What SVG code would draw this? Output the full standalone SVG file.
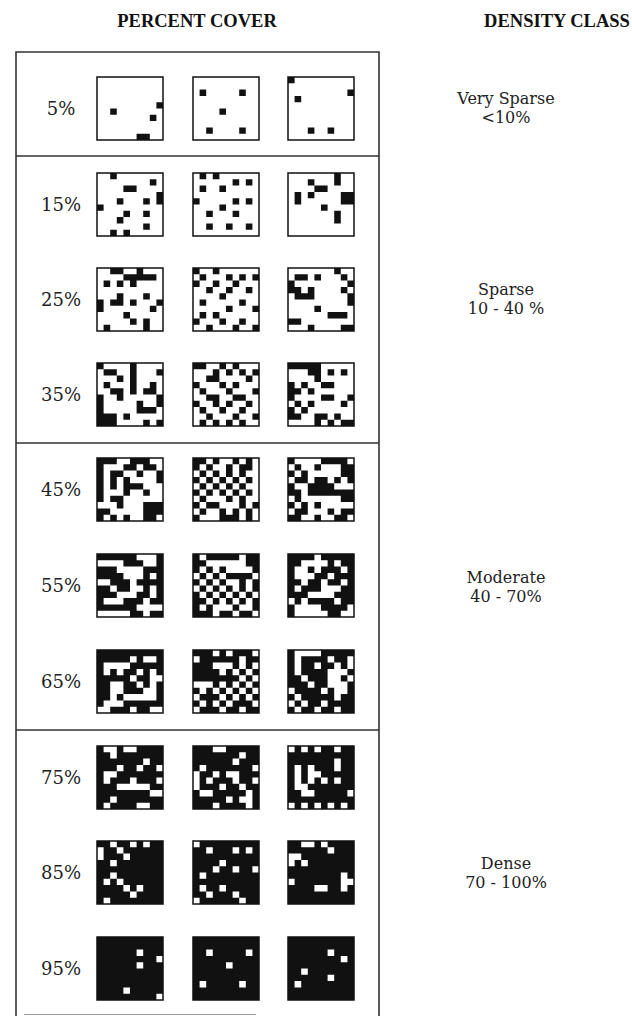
<svg xmlns="http://www.w3.org/2000/svg" width="632" height="1016" viewBox="0 0 632 1016">
<style>
.hd{font-family:"Liberation Serif",serif;font-weight:bold;font-size:18.5px;fill:#111;text-anchor:middle}
.lb{font-family:"DejaVu Serif","Liberation Serif",serif;font-size:18px;fill:#222;text-anchor:middle}
.cl{font-family:"DejaVu Serif","Liberation Serif",serif;font-size:16px;fill:#222;text-anchor:middle}
.bw{fill:#fff}
.bk{fill:#111}
.ol{fill:none;stroke:#111;stroke-width:1.5}
.frame{fill:none;stroke:#333;stroke-width:1.6}
</style>
<rect width="632" height="1016" fill="#fff"/>
<g id="headers">
<text class="hd" x="197" y="27">PERCENT COVER</text>
<text class="hd" x="557" y="27">DENSITY CLASS</text>
</g>
<g id="frame">
<path class="frame" d="M16 1016V52H379V1016"/>
<path class="frame" d="M16 156H379M16 443H379M16 730H379"/>
<path d="M24 1014.5H256" stroke="#999" stroke-width="1"/>
</g>
<g id="labels">
<text class="lb" x="61" y="115">5%</text>
<text class="lb" x="61" y="211">15%</text>
<text class="lb" x="61" y="306">25%</text>
<text class="lb" x="61" y="401">35%</text>
<text class="lb" x="61" y="496">45%</text>
<text class="lb" x="61" y="592">55%</text>
<text class="lb" x="61" y="688">65%</text>
<text class="lb" x="61" y="784">75%</text>
<text class="lb" x="61" y="879">85%</text>
<text class="lb" x="61" y="975">95%</text>
</g>
<g id="classes">
<text class="cl" x="506" y="104">Very Sparse</text>
<text class="cl" x="506" y="123">&lt;10%</text>
<text class="cl" x="506" y="295">Sparse</text>
<text class="cl" x="506" y="314">10 - 40 %</text>
<text class="cl" x="506" y="583">Moderate</text>
<text class="cl" x="506" y="602">40 - 70%</text>
<text class="cl" x="506" y="869">Dense</text>
<text class="cl" x="506" y="888">70 - 100%</text>
</g>

<g id="p5a" transform="translate(97,77)"><rect class="bw" width="66" height="63"/><path class="bk" transform="scale(6.6 6.3)" d="M2 5h1v1h-1zM9 4h1v1h-1zM8 6h1v1h-1zM6 9h2v1h-2z"/><rect class="ol" width="66" height="63"/></g>
<g id="p5b" transform="translate(193,77)"><rect class="bw" width="66" height="63"/><path class="bk" transform="scale(6.6 6.3)" d="M1 2h1v1h-1zM7 2h1v1h-1zM4 5h1v1h-1zM2 8h1v1h-1zM7 8h1v1h-1z"/><rect class="ol" width="66" height="63"/></g>
<g id="p5c" transform="translate(288,77)"><rect class="bw" width="66" height="63"/><path class="bk" transform="scale(6.6 6.3)" d="M0 0h1v1h-1zM1 3h1v1h-1zM9 2h1v1h-1zM3 8h1v1h-1zM6 8h1v1h-1z"/><rect class="ol" width="66" height="63"/></g>

<g id="p15a" transform="translate(97,173)"><rect class="bw" width="66" height="63"/><path class="bk" transform="scale(6.6 6.3)" d="M2 0h1v1h-1zM8 1h1v1h-1zM4 2h2v1h-2zM9 3h1v2h-1zM3 4h1v1h-1zM7 4h1v1h-1zM0 5h1v1h-1zM4 6h1v1h-1zM7 6h1v1h-1zM3 7h1v1h-1zM7 8h1v1h-1zM2 9h1v1h-1zM4 9h1v1h-1z"/><rect class="ol" width="66" height="63"/></g>
<g id="p15b" transform="translate(193,173)"><rect class="bw" width="66" height="63"/><path class="bk" transform="scale(6.6 6.3)" d="M1 0h1v1h-1zM3 0h1v1h-1zM6 1h1v1h-1zM8 1h1v1h-1zM1 2h1v1h-1zM4 2h1v1h-1zM0 4h1v1h-1zM6 4h1v1h-1zM8 4h1v1h-1zM4 5h1v1h-1zM2 6h1v1h-1zM6 6h1v1h-1zM2 8h1v1h-1zM5 8h1v1h-1zM8 8h1v1h-1z"/><rect class="ol" width="66" height="63"/></g>
<g id="p15c" transform="translate(288,173)"><rect class="bw" width="66" height="63"/><path class="bk" transform="scale(6.6 6.3)" d="M7 0h1v2h-1zM3 1h1v1h-1zM4 2h2v1h-2zM3 3h1v1h-1zM1 3h1v2h-1zM8 3h2v2h-2zM5 5h1v1h-1zM7 6h1v2h-1z"/><rect class="ol" width="66" height="63"/></g>

<g id="p25a" transform="translate(97,268)"><rect class="bw" width="66" height="63"/><path class="bk" transform="scale(6.6 6.3)" d="M2 0h2v1h-2zM6 0h1v1h-1zM4 1h5v1h-5zM1 2h1v1h-1zM3 2h1v1h-1zM5 2h1v1h-1zM3 4h1v1h-1zM7 4h1v1h-1zM0 5h1v2h-1zM2 5h2v1h-2zM5 5h1v1h-1zM9 5h1v1h-1zM8 6h1v1h-1zM4 7h1v1h-1zM5 8h1v1h-1zM7 8h1v2h-1zM1 9h1v1h-1z"/><rect class="ol" width="66" height="63"/></g>
<g id="p25b" transform="translate(193,268)"><rect class="bw" width="66" height="63"/><path class="bk" transform="scale(6.6 6.3)" d="M0 0h1v1h-1zM3 0h1v1h-1zM1 1h1v1h-1zM5 1h1v1h-1zM7 1h1v1h-1zM9 1h1v1h-1zM0 2h1v1h-1zM3 2h1v1h-1zM6 2h1v1h-1zM2 3h1v1h-1zM5 3h1v1h-1zM8 3h1v1h-1zM4 4h1v1h-1zM1 5h1v1h-1zM7 5h1v1h-1zM5 6h1v1h-1zM9 6h1v1h-1zM1 7h1v1h-1zM3 7h1v1h-1zM0 8h1v1h-1zM4 8h1v1h-1zM7 8h1v1h-1zM2 9h1v1h-1zM6 9h1v1h-1zM9 9h1v1h-1z"/><rect class="ol" width="66" height="63"/></g>
<g id="p25c" transform="translate(288,268)"><rect class="bw" width="66" height="63"/><path class="bk" transform="scale(6.6 6.3)" d="M7 0h1v1h-1zM1 1h2v1h-2zM4 1h1v1h-1zM8 1h1v1h-1zM0 2h1v2h-1zM9 2h1v1h-1zM1 3h1v1h-1zM3 3h1v1h-1zM8 3h1v1h-1zM1 4h3v1h-3zM9 4h1v2h-1zM4 6h1v1h-1zM6 7h3v1h-3zM0 8h2v1h-2zM3 9h1v1h-1zM8 9h2v1h-2z"/><rect class="ol" width="66" height="63"/></g>

<g id="p35a" transform="translate(97,363)"><rect class="bw" width="66" height="63"/><path class="bk" transform="scale(6.6 6.3)" d="M0 0h1v1h-1zM5 0h1v5h-1zM1 1h2v1h-2zM9 1h1v1h-1zM3 2h1v1h-1zM1 3h1v1h-1zM8 3h1v2h-1zM2 4h2v1h-2zM7 4h1v1h-1zM0 5h1v5h-1zM3 5h1v1h-1zM9 5h1v2h-1zM6 6h1v2h-1zM7 7h2v1h-2zM1 8h2v2h-2zM4 8h1v1h-1zM7 9h1v1h-1zM9 9h1v1h-1z"/><rect class="ol" width="66" height="63"/></g>
<g id="p35b" transform="translate(193,363)"><rect class="bw" width="66" height="63"/><path class="bk" transform="scale(6.6 6.3)" d="M0 0h2v1h-2zM4 0h1v1h-1zM6 0h1v1h-1zM3 1h1v2h-1zM5 1h1v1h-1zM7 1h1v1h-1zM9 1h1v1h-1zM2 2h1v1h-1zM8 2h1v1h-1zM0 3h1v1h-1zM4 3h1v1h-1zM6 3h1v1h-1zM1 4h1v1h-1zM5 4h1v1h-1zM9 4h1v1h-1zM2 5h2v1h-2zM6 5h2v1h-2zM0 6h1v1h-1zM3 6h1v1h-1zM5 6h1v1h-1zM8 6h1v1h-1zM1 7h1v1h-1zM4 7h1v1h-1zM7 7h1v1h-1zM2 8h1v1h-1zM6 8h1v1h-1zM9 8h1v1h-1zM1 9h1v1h-1zM3 9h1v1h-1zM5 9h1v1h-1zM7 9h1v1h-1z"/><rect class="ol" width="66" height="63"/></g>
<g id="p35c" transform="translate(288,363)"><rect class="bw" width="66" height="63"/><path class="bk" transform="scale(6.6 6.3)" d="M0 0h5v1h-5zM3 1h2v1h-2zM6 1h1v1h-1zM8 1h1v1h-1zM4 2h1v1h-1zM0 3h1v3h-1zM2 3h1v1h-1zM5 3h2v1h-2zM1 4h1v1h-1zM3 4h1v1h-1zM5 5h2v1h-2zM9 5h1v1h-1zM1 6h1v1h-1zM3 6h1v1h-1zM8 6h1v1h-1zM0 7h1v2h-1zM2 7h1v1h-1zM1 8h1v1h-1zM4 8h2v1h-2zM7 8h1v1h-1zM4 9h1v1h-1zM6 9h1v1h-1zM8 9h2v1h-2z"/><rect class="ol" width="66" height="63"/></g>

<g id="p45a" transform="translate(97,458)"><rect class="bw" width="66" height="63"/><path class="bk" transform="scale(6.6 6.3)" d="M0 0h3v1h-3zM5 0h3v1h-3zM0 1h1v6h-1zM4 1h2v1h-2zM7 1h2v1h-2zM2 2h2v1h-2zM6 2h1v1h-1zM9 2h1v2h-1zM2 3h1v2h-1zM4 3h1v1h-1zM4 4h3v1h-3zM4 5h1v1h-1zM7 5h1v1h-1zM2 6h2v1h-2zM3 7h1v1h-1zM7 7h3v2h-3zM0 8h2v1h-2zM0 9h1v1h-1zM2 9h1v1h-1zM4 9h1v1h-1zM7 9h2v1h-2z"/><rect class="ol" width="66" height="63"/></g>
<g id="p45b" transform="translate(193,458)"><rect class="bw" width="66" height="63"/><path class="bk" transform="scale(6.6 6.3)" d="M0 0h2v1h-2zM3 0h1v1h-1zM6 0h1v1h-1zM8 0h1v1h-1zM0 1h1v1h-1zM2 1h1v1h-1zM5 1h1v1h-1zM7 1h2v1h-2zM1 2h1v1h-1zM3 2h1v1h-1zM5 2h1v1h-1zM7 2h1v1h-1zM0 3h1v1h-1zM2 3h1v1h-1zM4 3h1v1h-1zM6 3h1v1h-1zM8 3h1v1h-1zM1 4h1v1h-1zM3 4h1v1h-1zM5 4h1v1h-1zM7 4h1v1h-1zM0 5h1v1h-1zM2 5h1v1h-1zM4 5h1v1h-1zM6 5h1v1h-1zM8 5h1v1h-1zM1 6h1v1h-1zM5 6h1v1h-1zM7 6h1v1h-1zM0 7h1v1h-1zM2 7h2v1h-2zM7 7h1v1h-1zM9 7h1v1h-1zM1 8h1v1h-1zM4 8h1v1h-1zM6 8h1v1h-1zM8 8h1v1h-1zM0 9h1v1h-1zM4 9h3v1h-3zM8 9h1v1h-1z"/><rect class="ol" width="66" height="63"/></g>
<g id="p45c" transform="translate(288,458)"><rect class="bw" width="66" height="63"/><path class="bk" transform="scale(6.6 6.3)" d="M0 0h1v1h-1zM5 0h4v1h-4zM1 1h1v1h-1zM4 1h1v1h-1zM8 1h2v1h-2zM0 2h1v1h-1zM2 2h1v1h-1zM8 2h2v1h-2zM1 3h2v1h-2zM4 3h2v1h-2zM7 3h1v1h-1zM9 3h1v1h-1zM0 4h1v1h-1zM3 4h4v1h-4zM0 5h2v1h-2zM3 5h7v1h-7zM1 6h1v1h-1zM8 6h2v1h-2zM0 7h1v1h-1zM2 7h1v1h-1zM4 7h1v1h-1zM1 8h2v1h-2zM6 8h1v1h-1zM8 8h2v1h-2zM0 9h2v1h-2zM4 9h1v1h-1zM7 9h2v1h-2z"/><rect class="ol" width="66" height="63"/></g>

<g id="p55a" transform="translate(97,554)"><rect class="bk" width="66" height="63"/><path class="bw" transform="scale(6.6 6.3)" d="M6 0h3v1h-3zM0 1h4v1h-4zM7 1h2v1h-2zM3 2h4v1h-4zM4 3h3v1h-3zM8 3h1v1h-1zM0 4h2v1h-2zM5 4h1v1h-1zM2 5h1v1h-1zM5 5h2v1h-2zM8 5h1v1h-1zM3 6h3v1h-3zM8 6h1v1h-1zM1 7h3v1h-3zM7 7h1v1h-1zM6 8h4v1h-4zM0 9h5v1h-5zM7 9h1v1h-1z"/><rect class="ol" width="66" height="63"/></g>
<g id="p55b" transform="translate(193,554)"><rect class="bk" width="66" height="63"/><path class="bw" transform="scale(6.6 6.3)" d="M1 0h1v1h-1zM7 0h1v1h-1zM2 1h6v1h-6zM1 2h1v1h-1zM3 2h1v1h-1zM5 2h4v1h-4zM0 3h1v1h-1zM2 3h1v1h-1zM4 3h1v1h-1zM9 3h1v1h-1zM1 4h1v1h-1zM3 4h1v1h-1zM5 4h2v1h-2zM8 4h1v1h-1zM0 5h1v1h-1zM2 5h1v1h-1zM4 5h1v1h-1zM6 5h1v1h-1zM8 5h1v1h-1zM1 6h1v1h-1zM3 6h1v1h-1zM5 6h1v1h-1zM7 6h1v1h-1zM9 6h1v1h-1zM2 7h1v1h-1zM4 7h1v1h-1zM6 7h1v1h-1zM8 7h1v1h-1zM1 8h1v1h-1zM3 8h3v1h-3zM7 8h2v1h-2zM3 9h1v1h-1zM6 9h1v1h-1zM9 9h1v1h-1z"/><rect class="ol" width="66" height="63"/></g>
<g id="p55c" transform="translate(288,554)"><rect class="bk" width="66" height="63"/><path class="bw" transform="scale(6.6 6.3)" d="M4 0h1v1h-1zM2 1h4v1h-4zM7 1h1v1h-1zM1 2h2v1h-2zM4 2h1v1h-1zM8 2h1v1h-1zM1 3h3v1h-3zM6 3h1v1h-1zM2 4h1v1h-1zM5 4h1v1h-1zM8 4h1v1h-1zM1 5h1v1h-1zM5 5h3v1h-3zM3 6h4v1h-4zM0 7h1v1h-1zM2 7h1v1h-1zM7 7h1v1h-1zM1 8h4v1h-4zM9 8h1v1h-1zM1 9h5v1h-5zM8 9h2v1h-2z"/><rect class="ol" width="66" height="63"/></g>

<g id="p65a" transform="translate(97,650)"><rect class="bk" width="66" height="63"/><path class="bw" transform="scale(6.6 6.3)" d="M5 1h1v1h-1zM7 1h2v1h-2zM1 2h4v1h-4zM1 3h1v1h-1zM3 3h1v1h-1zM6 3h1v1h-1zM8 3h1v1h-1zM5 4h1v1h-1zM8 4h2v1h-2zM2 5h2v1h-2zM6 5h1v1h-1zM8 5h1v1h-1zM2 6h2v1h-2zM7 6h2v1h-2zM2 7h1v1h-1zM4 7h5v1h-5zM1 8h3v1h-3zM0 9h2v1h-2zM5 9h1v1h-1zM8 9h2v1h-2z"/><rect class="ol" width="66" height="63"/></g>
<g id="p65b" transform="translate(193,650)"><rect class="bk" width="66" height="63"/><path class="bw" transform="scale(6.6 6.3)" d="M3 0h1v1h-1zM5 0h1v1h-1zM9 0h1v1h-1zM0 1h1v1h-1zM7 1h1v1h-1zM3 2h3v1h-3zM7 2h1v1h-1zM9 2h1v1h-1zM4 3h1v1h-1zM6 3h1v1h-1zM8 3h1v1h-1zM7 4h1v1h-1zM9 4h1v1h-1zM0 5h3v1h-3zM4 5h1v1h-1zM6 5h1v1h-1zM8 5h1v1h-1zM1 6h1v1h-1zM3 6h1v1h-1zM5 6h1v1h-1zM7 6h1v1h-1zM9 6h1v1h-1zM0 7h1v1h-1zM4 7h1v1h-1zM6 7h1v1h-1zM8 7h1v1h-1zM1 8h1v1h-1zM3 8h1v1h-1zM5 8h1v1h-1zM9 8h1v1h-1zM0 9h1v1h-1zM4 9h1v1h-1zM7 9h1v1h-1z"/><rect class="ol" width="66" height="63"/></g>
<g id="p65c" transform="translate(288,650)"><rect class="bk" width="66" height="63"/><path class="bw" transform="scale(6.6 6.3)" d="M1 0h4v1h-4zM1 1h1v1h-1zM6 1h1v1h-1zM9 1h1v1h-1zM1 2h1v1h-1zM4 2h1v1h-1zM7 2h1v1h-1zM9 2h1v1h-1zM1 3h1v1h-1zM6 3h3v1h-3zM2 4h1v1h-1zM6 4h2v1h-2zM9 4h1v1h-1zM3 5h1v1h-1zM6 5h3v1h-3zM0 6h1v1h-1zM5 6h1v1h-1zM7 6h2v1h-2zM1 7h1v1h-1zM7 7h1v1h-1zM0 8h1v1h-1zM2 8h1v1h-1zM5 8h1v1h-1zM1 9h1v1h-1zM4 9h1v1h-1zM7 9h1v1h-1z"/><rect class="ol" width="66" height="63"/></g>

<g id="p75a" transform="translate(97,746)"><rect class="bk" width="66" height="63"/><path class="bw" transform="scale(6.6 6.3)" d="M1 0h2v1h-2zM4 0h2v1h-2zM2 1h1v1h-1zM7 2h1v1h-1zM3 3h1v1h-1zM6 3h1v1h-1zM9 3h1v1h-1zM1 4h2v1h-2zM1 5h1v1h-1zM5 5h1v1h-1zM9 5h1v1h-1zM3 6h5v1h-5zM8 7h2v1h-2zM2 8h1v1h-1zM1 9h1v1h-1zM6 9h2v1h-2z"/><rect class="ol" width="66" height="63"/></g>
<g id="p75b" transform="translate(193,746)"><rect class="bk" width="66" height="63"/><path class="bw" transform="scale(6.6 6.3)" d="M3 0h2v1h-2zM7 1h1v1h-1zM6 2h1v1h-1zM1 3h1v1h-1zM9 3h1v1h-1zM0 4h1v1h-1zM3 4h1v1h-1zM5 4h2v1h-2zM0 5h1v1h-1zM2 5h1v1h-1zM6 5h1v1h-1zM9 5h1v1h-1zM0 6h1v1h-1zM4 6h1v1h-1zM7 6h1v1h-1zM1 7h2v1h-2zM8 7h1v1h-1zM5 8h1v1h-1zM7 8h2v1h-2zM3 9h1v1h-1zM8 9h1v1h-1z"/><rect class="ol" width="66" height="63"/></g>
<g id="p75c" transform="translate(288,746)"><rect class="bk" width="66" height="63"/><path class="bw" transform="scale(6.6 6.3)" d="M0 0h1v1h-1zM2 0h1v1h-1zM4 0h1v1h-1zM7 0h1v1h-1zM7 2h1v2h-1zM1 3h1v4h-1zM3 3h1v3h-1zM4 4h1v1h-1zM5 5h1v1h-1zM7 5h1v1h-1zM2 6h1v1h-1zM2 7h2v1h-2zM9 7h1v1h-1zM0 9h1v1h-1zM2 9h1v1h-1zM4 9h1v1h-1zM6 9h1v1h-1zM8 9h1v1h-1z"/><rect class="ol" width="66" height="63"/></g>

<g id="p85a" transform="translate(97,841)"><rect class="bk" width="66" height="63"/><path class="bw" transform="scale(6.6 6.3)" d="M2 0h1v1h-1zM5 0h1v1h-1zM7 0h1v1h-1zM0 1h1v2h-1zM3 1h1v1h-1zM4 2h1v1h-1zM2 3h1v1h-1zM2 5h1v1h-1zM1 6h1v1h-1zM3 6h1v1h-1zM4 7h1v1h-1zM6 7h1v1h-1zM5 8h1v1h-1zM1 9h1v1h-1z"/><rect class="ol" width="66" height="63"/></g>
<g id="p85b" transform="translate(193,841)"><rect class="bk" width="66" height="63"/><path class="bw" transform="scale(6.6 6.3)" d="M0 0h1v1h-1zM2 1h1v1h-1zM6 1h1v1h-1zM8 1h1v1h-1zM4 3h1v1h-1zM3 4h1v1h-1zM6 4h1v1h-1zM9 4h1v1h-1zM1 5h1v1h-1zM1 7h1v1h-1zM4 7h1v1h-1zM2 8h1v1h-1zM6 8h1v1h-1zM7 9h1v1h-1zM0 9h1v1h-1z"/><rect class="ol" width="66" height="63"/></g>
<g id="p85c" transform="translate(288,841)"><rect class="bk" width="66" height="63"/><path class="bw" transform="scale(6.6 6.3)" d="M2 0h2v1h-2zM5 0h1v1h-1zM6 1h1v1h-1zM0 2h2v1h-2zM0 3h1v1h-1zM2 3h1v1h-1zM0 6h1v1h-1zM4 7h2v1h-2zM8 5h1v3h-1zM9 6h1v1h-1z"/><rect class="ol" width="66" height="63"/></g>

<g id="p95a" transform="translate(97,937)"><rect class="bk" width="66" height="63"/><path class="bw" transform="scale(6.6 6.3)" d="M6 2h1v1h-1zM9 3h1v1h-1zM6 4h1v1h-1zM4 8h1v1h-1zM9 9h1v1h-1z"/><rect class="ol" width="66" height="63"/></g>
<g id="p95b" transform="translate(193,937)"><rect class="bk" width="66" height="63"/><path class="bw" transform="scale(6.6 6.3)" d="M2 2h1v1h-1zM8 2h1v1h-1zM5 4h1v1h-1zM1 7h1v1h-1zM7 7h1v1h-1z"/><rect class="ol" width="66" height="63"/></g>
<g id="p95c" transform="translate(288,937)"><rect class="bk" width="66" height="63"/><path class="bw" transform="scale(6.6 6.3)" d="M6 2h1v1h-1zM8 3h1v1h-1zM2 5h1v1h-1zM6 6h1v1h-1zM1 7h1v1h-1z"/><rect class="ol" width="66" height="63"/></g>
</svg>
